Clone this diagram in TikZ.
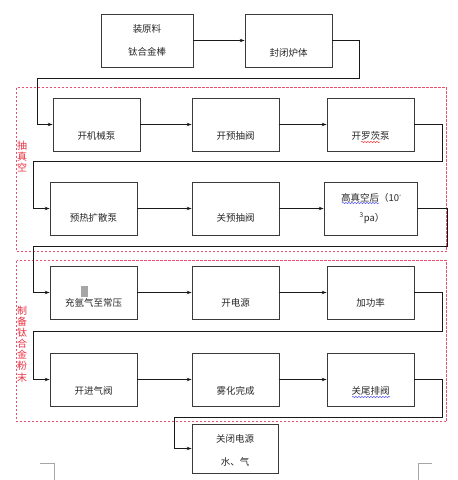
\documentclass[tikz,border=0pt]{standalone}
\usepackage{fontspec}
\newfontfamily\cjk{Noto Sans CJK SC}
\usetikzlibrary{arrows.meta,decorations.pathmorphing}
\definecolor{boxline}{HTML}{3A3A3A}
\definecolor{redd}{HTML}{E8506E}
\definecolor{redtxt}{HTML}{E83040}
\tikzset{
  box/.style={draw=boxline,line width=0.8pt,rectangle,inner sep=0pt,minimum width=87pt,minimum height=53pt},
  txt/.style={font=\cjk\fontsize{9.5}{11}\selectfont,text=black!85,inner sep=0pt,align=center},
  conn/.style={draw=black!90,line width=0.8pt,-{Stealth[length=5pt,width=3.5pt]}},
  group/.style={draw=redd,dash pattern=on 2.5pt off 1.5pt,line width=0.8pt},
  grouplbl/.style={font=\cjk\fontsize{10}{11.1}\selectfont,text=redtxt,inner sep=0pt,align=center},
  wavyr/.style={draw=red!80,line width=0.5pt,decorate,decoration={snake,amplitude=0.6pt,segment length=3pt}},
  wavyb/.style={draw=blue!70,line width=0.5pt,decorate,decoration={snake,amplitude=0.6pt,segment length=3pt}},
  corner/.style={draw=black!35,line width=0.6pt}
}
\begin{document}
\begin{tikzpicture}[x=1pt,y=-1pt]
\useasboundingbox (0,0) rectangle (458,480);
% group frames
\draw[group] (16.5,87.5) rectangle (446.5,251.5);
\draw[group] (16.5,260.5) rectangle (446.5,421.5);
\node[grouplbl] (g1) at (22,156.5) {抽\\真\\空};
\node[grouplbl] (g2) at (22,344) {制\\备\\钛\\合\\金\\粉\\末};
% top row
\node[box,minimum width=92pt] (b1) at (147,40.5) {};
\node[txt] (b1t) at (147,40.5) {装原料\\[12pt]钛合金棒};
\node[box] (b2) at (288.5,40.5) {};
\node[txt] (b2t) at (288.5,53) {封闭炉体};
% row 1
\node[box] (A) at (96.5,124.5) {};
\node[txt] (At) at (96.5,136) {开机械泵};
\node[box] (B) at (235.5,124.5) {};
\node[txt] (Bt) at (235.5,136) {开预抽阀};
\node[box] (C) at (370.5,124.5) {};
\node[txt] (Ct) at (370.5,136) {开罗茨泵};
% row 2
\node[box] (D) at (93.5,208.5) {};
\node[txt] (Dt) at (93.5,218) {预热扩散泵};
\node[box] (E) at (235.5,208.5) {};
\node[txt] (Et) at (235.5,218) {关预抽阀};
\node[box,minimum width=93pt] (F) at (370.5,208.5) {};
\node[txt,anchor=west] (Ft1) at (341,198) {高真空后（10\textsuperscript{-}};
\node[txt] (Ft2) at (372,218) {\textsuperscript{3}pa）};
% row 3
\node[box] (G) at (93.5,292.5) {};
\node[txt] (Gt) at (93.5,303) {充氩气至常压};
\fill[black!35] (81,286) rectangle (88,297);
\node[box] (H) at (235.5,292.5) {};
\node[txt] (Ht) at (235.5,303) {开电源};
\node[box] (I) at (370.5,292.5) {};
\node[txt] (It) at (370.5,303) {加功率};
% row 4
\node[box] (J) at (93.5,379.5) {};
\node[txt] (Jt) at (93.5,391) {开进气阀};
\node[box] (K) at (235.5,379.5) {};
\node[txt] (Kt) at (235.5,391) {雾化完成};
\node[box] (L) at (370.5,379.5) {};
\node[txt] (Lt) at (370.5,391) {关尾排阀};
% final
\node[box,minimum width=86pt,minimum height=49pt] (M) at (235,448.5) {};
\node[txt] (Mt) at (235,450.5) {关闭电源\\[12pt]水、气};
% spell-check underlines
\draw[wavyr] (361,142) -- (380,142);
\draw[wavyb] (342,203) -- (379,203);
\draw[wavyb] (352,397) -- (390,397);
% connectors
\draw[conn] (b1.east) -- (b2.west);
\draw[conn] (b2.east) -- (359,40.5) |- (37,78) |- (A.west);
\draw[conn] (A.east) -- (B.west);
\draw[conn] (B.east) -- (C.west);
\draw[conn] (C.east) -- (442,124.5) |- (33,161) |- (D.west);
\draw[conn] (D.east) -- (E.west);
\draw[conn] (E.east) -- (F.west);
\draw[conn] (F.east) -- (447,208.5) |- (33,246) |- (G.west);
\draw[conn] (G.east) -- (H.west);
\draw[conn] (H.east) -- (I.west);
\draw[conn] (I.east) -- (442,292.5) |- (33,331) |- (J.west);
\draw[conn] (J.east) -- (K.west);
\draw[conn] (K.east) -- (L.west);
\draw[conn] (L.east) -- (442,379.5) |- (174,417) |- (M.west);
% page corner marks
\draw[corner] (40,463) -- (54,463) -- (54,480);
\draw[corner] (432,463) -- (418,463) -- (418,480);
\end{tikzpicture}
\end{document}
